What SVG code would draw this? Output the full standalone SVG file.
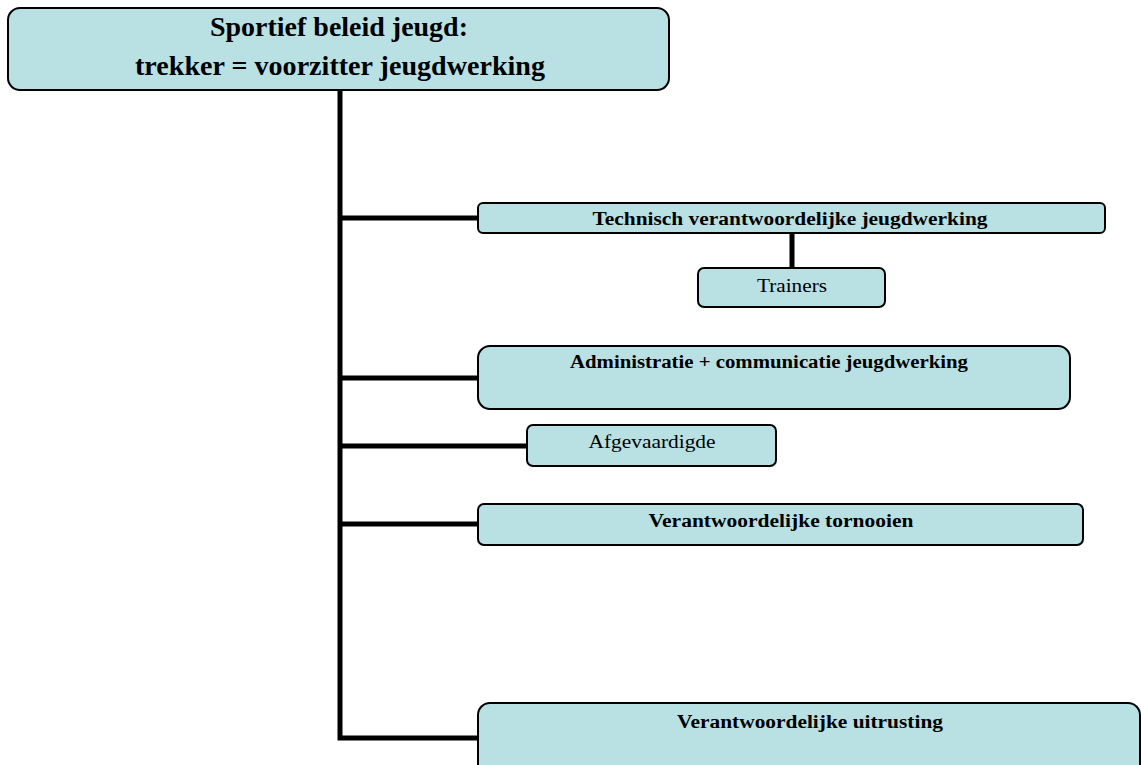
<svg xmlns="http://www.w3.org/2000/svg" width="1141" height="765" viewBox="0 0 1141 765">
<style>
.box{fill:#B9E0E3;stroke:#000;stroke-width:2}
.t{font-family:"Liberation Serif","Times New Roman",serif;fill:#000;text-anchor:middle;font-size:18px}
.b{font-weight:bold}
.h{font-size:27px}
.c{fill:none;stroke:#000;stroke-width:5}
</style>
<rect width="1141" height="765" fill="#fff"/>
<g id="connectors">
<path class="c" d="M340 90 V738 H478"/>
<path class="c" d="M340 218 H478"/>
<path class="c" d="M340 378 H478"/>
<path class="c" d="M340 446 H527"/>
<path class="c" d="M340 524 H478"/>
<path class="c" d="M792 233 V268"/>
</g>
<g id="top">
<rect class="box" x="8" y="8" width="661" height="82" rx="12"/>
<text class="t b h" x="339" y="36" textLength="258" lengthAdjust="spacingAndGlyphs">Sportief beleid jeugd:</text>
<text class="t b h" x="340" y="75" textLength="410" lengthAdjust="spacingAndGlyphs">trekker = voorzitter jeugdwerking</text>
</g>
<g id="technisch">
<rect class="box" x="478" y="203" width="627" height="30" rx="5"/>
<text class="t b" x="790" y="225" textLength="395" lengthAdjust="spacingAndGlyphs">Technisch verantwoordelijke jeugdwerking</text>
</g>
<g id="trainers">
<rect class="box" x="698" y="268" width="187" height="39" rx="6"/>
<text class="t" x="792" y="292" textLength="70" lengthAdjust="spacingAndGlyphs">Trainers</text>
</g>
<g id="administratie">
<rect class="box" x="478" y="346" width="592" height="63" rx="12"/>
<text class="t b" x="769" y="368" textLength="398" lengthAdjust="spacingAndGlyphs">Administratie + communicatie jeugdwerking</text>
</g>
<g id="afgevaardigde">
<rect class="box" x="527" y="425" width="249" height="41" rx="6"/>
<text class="t" x="652" y="448" textLength="127" lengthAdjust="spacingAndGlyphs">Afgevaardigde</text>
</g>
<g id="tornooien">
<rect class="box" x="478" y="504" width="605" height="41" rx="6"/>
<text class="t b" x="781" y="527" textLength="265" lengthAdjust="spacingAndGlyphs">Verantwoordelijke tornooien</text>
</g>
<g id="uitrusting">
<rect class="box" x="478" y="703" width="662" height="80" rx="12"/>
<text class="t b" x="810" y="728" textLength="266" lengthAdjust="spacingAndGlyphs">Verantwoordelijke uitrusting</text>
</g>
</svg>
